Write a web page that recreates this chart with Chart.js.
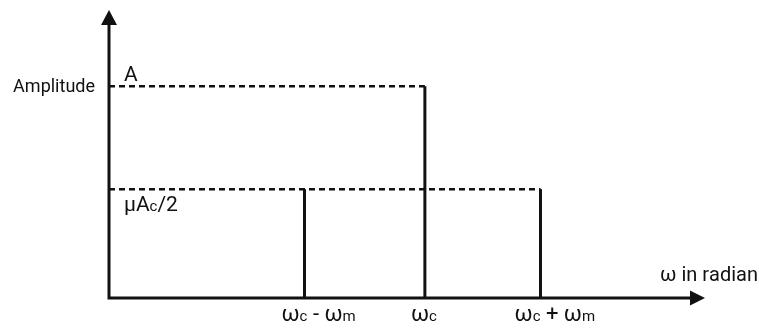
<!DOCTYPE html>
<html>
<head>
<meta charset="utf-8">
<script src="https://cdn.jsdelivr.net/npm/chart.js@4.4.0/dist/chart.umd.min.js"></script>
<style>
  html, body { margin: 0; padding: 0; background: #fff; }
  #wrap { width: 759px; height: 331px; }
</style>
</head>
<body>
<div id="wrap"><canvas id="spectrumChart"></canvas></div>
<script>
// spectrum components: lower sideband, carrier, upper sideband
const freqPositions = [1.64, 2.65, 3.62];
const amplitudes = [0.514, 1, 0.514];
const tickLabels = ['ω_c - ω_m', 'ω_c', 'ω_c + ω_m'];
// labels for the dashed amplitude levels
const levelValues = [1, 0.514];
const levelLabels = ['A', 'μA_c/2'];
const yAxisTitle = 'Amplitude';
const xAxisTitle = 'ω in radian';

const X_MAX = 5;
const Y_MAX = 1.36;
const FONT = 'Roboto, "Noto Sans", sans-serif';
const INK = '#111';
// how far left of each stem its label starts (px)
const tickLabelLead = [23, 14, 26];

// stems
const datasets = freqPositions.map((f, i) => ({
    data: [{ x: f, y: 0 }, { x: f, y: amplitudes[i] }],
    borderColor: INK,
    borderWidth: 3,
    pointRadius: 0,
    clip: false,
}));

// dashed level lines from y axis to the furthest stem of that height
levelValues.forEach((lv) => {
    const reach = Math.max(...freqPositions.filter((f, i) => amplitudes[i] === lv));
    datasets.unshift({
        data: [{ x: 0, y: lv }, { x: reach, y: lv }],
        borderColor: INK,
        borderWidth: 2.5,
        borderDash: [6, 4],
        pointRadius: 0,
        clip: false,
    });
});

// draw text where "_x" makes x a small subscript
function drawRich(ctx, str, x, y, align, big, small) {
    const parts = [];
    for (let i = 0; i < str.length; i++) {
        if (str[i] === '_' && i + 1 < str.length) {
            parts.push({ t: str[i + 1], s: small });
            i++;
        } else {
            parts.push({ t: str[i], s: big });
        }
    }
    let w = 0;
    parts.forEach((p) => {
        ctx.font = p.s + 'px ' + FONT;
        p.w = ctx.measureText(p.t).width;
        w += p.w;
    });
    let cx = x;
    if (align === 'center') cx = x - w / 2;
    if (align === 'right') cx = x - w;
    ctx.textAlign = 'left';
    ctx.textBaseline = 'alphabetic';
    parts.forEach((p) => {
        ctx.font = p.s + 'px ' + FONT;
        ctx.fillText(p.t, cx, y);
        cx += p.w;
    });
}

const axesPlugin = {
    id: 'axesPlugin',
    afterDraw(chart) {
        const { ctx, chartArea, scales } = chart;
        const x0 = scales.x.getPixelForValue(0);
        const y0 = scales.y.getPixelForValue(0);
        const top = chartArea.top;
        const right = chartArea.right;
        ctx.save();
        ctx.strokeStyle = INK;
        ctx.fillStyle = INK;
        ctx.lineWidth = 3;
        ctx.beginPath();
        ctx.moveTo(x0, y0 + 1.5);
        ctx.lineTo(x0, top + 10);
        ctx.moveTo(x0 - 1.5, y0);
        ctx.lineTo(right - 10, y0);
        ctx.stroke();
        // arrow heads
        ctx.beginPath();
        ctx.moveTo(x0, top);
        ctx.lineTo(x0 - 8, top + 15);
        ctx.lineTo(x0 + 8, top + 15);
        ctx.closePath();
        ctx.fill();
        ctx.beginPath();
        ctx.moveTo(right, y0);
        ctx.lineTo(right - 15, y0 - 7.5);
        ctx.lineTo(right - 15, y0 + 7.5);
        ctx.closePath();
        ctx.fill();

        ctx.fillStyle = '#111';
        const yA = scales.y.getPixelForValue(levelValues[0]);
        const yS = scales.y.getPixelForValue(levelValues[1]);
        drawRich(ctx, yAxisTitle, x0 - 14, yA + 6, 'right', 18, 12);
        drawRich(ctx, levelLabels[0], x0 + 15, yA - 5, 'left', 21, 14);
        drawRich(ctx, levelLabels[1], x0 + 15, yS + 22, 'left', 21, 15);
        freqPositions.forEach((f, i) => {
            drawRich(ctx, tickLabels[i], scales.x.getPixelForValue(f) - tickLabelLead[i], y0 + 23, 'left', 22, 15);
        });
        drawRich(ctx, xAxisTitle, chart.width - 1, y0 - 17, 'right', 20, 14);
        ctx.restore();
    }
};

new Chart(document.getElementById('spectrumChart'), {
    type: 'line',
    data: { datasets: datasets },
    options: {
        responsive: true,
        maintainAspectRatio: false,
        animation: false,
        layout: { padding: { left: 109, right: 54, top: 10, bottom: 33 } },
        plugins: { legend: { display: false }, tooltip: { enabled: false } },
        scales: {
            x: { type: 'linear', min: 0, max: X_MAX, display: false },
            y: { type: 'linear', min: 0, max: Y_MAX, display: false },
        },
    },
    plugins: [axesPlugin],
});
</script>
</body>
</html>
